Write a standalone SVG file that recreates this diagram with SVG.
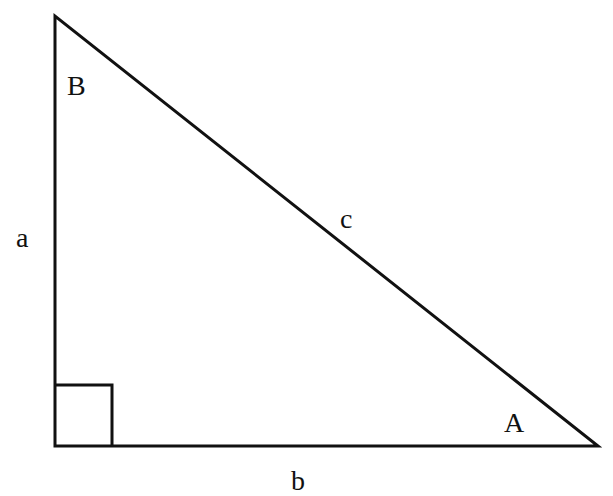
<svg xmlns="http://www.w3.org/2000/svg" width="613" height="496" viewBox="0 0 613 496">
<style>
.ln{fill:none;stroke:#111;stroke-width:3;stroke-linejoin:miter;}
.lb{font-family:"Liberation Serif","Times New Roman",serif;font-size:28px;fill:#111;}
</style>
<rect width="613" height="496" fill="#fff"/>
<g id="connectors">
<path class="ln" d="M55,16 L55,446 L598,446 Z"/>
<path class="ln" d="M55,385 L112,385 L112,446"/>
</g>
<g id="B"><text class="lb" x="67" y="95">B</text></g>
<g id="A"><text class="lb" x="504" y="432">A</text></g>
<g id="a"><text class="lb" x="16" y="247">a</text></g>
<g id="b"><text class="lb" x="291" y="490">b</text></g>
<g id="c"><text class="lb" x="340" y="228">c</text></g>
</svg>
